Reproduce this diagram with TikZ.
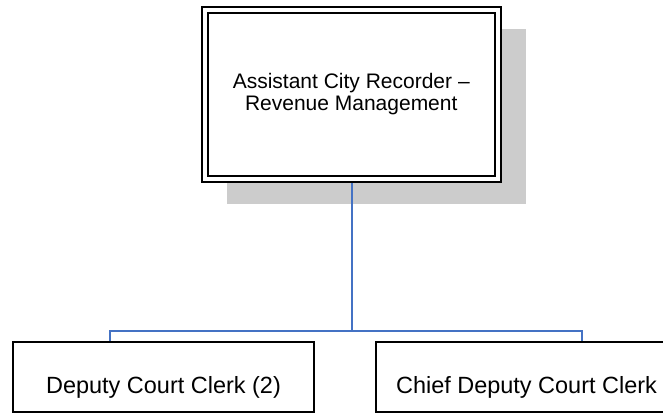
\documentclass[tikz,border=0pt]{standalone}
\usepackage{fontspec}
\setmainfont{Liberation Sans}
\usepackage{tikz}
\usetikzlibrary{positioning, calc}

\definecolor{shadowgrey}{RGB}{204,204,204}
\definecolor{linkblue}{RGB}{68,114,196}

\begin{document}
\begin{tikzpicture}[
    x=0.75pt, y=-0.75pt,
    headbox/.style={rectangle, draw, double, line width=1.5pt, double distance=3pt,
        fill=white, outer sep=0pt, align=center, font=\fontsize{15.75}{16.5}\selectfont,
        minimum width=219.75pt, minimum height=126.4pt},
    clerkbox/.style={rectangle, draw, line width=1pt, fill=white, outer sep=0pt,
        font=\fontsize{17.6}{20}\selectfont, text height=24pt, text depth=0pt,
        minimum width=225.75pt, minimum height=52.5pt},
    orgline/.style={draw=linkblue, line width=1.2pt}
]
    \useasboundingbox (0,0) rectangle (663,413);
    \clip (0,0) rectangle (663,413);

    % schatten
    \fill[shadowgrey] (227,29) rectangle (526,204);

    % verbindungen
    \coordinate (fork) at (352,331);
    \coordinate (leftdrop) at (110,342);
    \coordinate (rightdrop) at (582,342);
    \draw[orgline] (352,181) -- (fork);
    \draw[orgline] (fork) -| (leftdrop);
    \draw[orgline] (fork) -| (rightdrop);

    % stellen
    \node[headbox] (recorder) at (351.25,94.25) {Assistant City Recorder –\\Revenue Management};
    \node[clerkbox] (deputy) at (163.5,377) {Deputy Court Clerk (2)};
    \node[clerkbox] (chief) at (526.5,377) {Chief Deputy Court Clerk};
\end{tikzpicture}
\end{document}
